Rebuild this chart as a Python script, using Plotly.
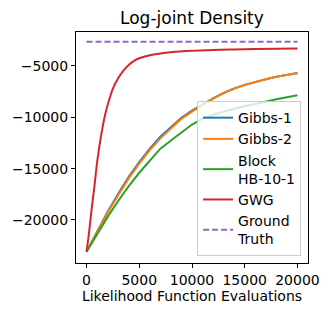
import plotly.graph_objects as go

x_gibbs = [0, 1000, 2000, 3000, 4000, 5000, 6000, 7000, 8000, 9000, 10000,
           11000, 12000, 13000, 14000, 15000, 16000, 17000, 18000, 19000, 20000]
gibbs1 = [-23100, -21150, -19200, -17450, -15800, -14350, -13050, -11900, -10950, -10050, -9350,
          -8720, -8150, -7630, -7190, -6840, -6540, -6290, -6040, -5840, -5690]
gibbs2 = [-23100, -21200, -19300, -17600, -15950, -14500, -13200, -12050, -11050, -10150, -9450,
          -8800, -8200, -7650, -7200, -6850, -6550, -6300, -6050, -5850, -5700]
block_hb = [-23100, -21350, -19700, -18150, -16700, -15400, -14200, -13050, -12250, -11500, -10700,
            -10150, -9750, -9450, -9150, -8900, -8700, -8450, -8250, -8050, -7850]

x_gwg = [0, 250, 500, 750, 1000, 1250, 1500, 1750, 2000, 2500, 3000, 3500, 4000, 4500,
         5000, 6000, 7000, 8000, 10000, 12000, 14000, 16000, 18000, 20000]
gwg = [-23100, -21100, -18800, -16700, -14400, -12600, -11100, -9800, -8800, -7200, -6200,
       -5450, -4900, -4500, -4250, -3950, -3780, -3660, -3520, -3440, -3390, -3350, -3320, -3300]

x_truth = [0, 20000]
truth = [-2650, -2650]

x_ticks = [0, 5000, 10000, 15000, 20000]
y_ticks = [-20000, -15000, -10000, -5000]

font = "DejaVu Sans"
fig = go.Figure()
fig.add_trace(go.Scatter(x=x_gibbs, y=gibbs1, mode="lines", name="Gibbs-1",
                         line=dict(color="#1f77b4", width=2)))
fig.add_trace(go.Scatter(x=x_gibbs, y=gibbs2, mode="lines", name="Gibbs-2",
                         line=dict(color="#ff7f0e", width=2)))
fig.add_trace(go.Scatter(x=x_gibbs, y=block_hb, mode="lines", name="Block<br>HB-10-1",
                         line=dict(color="#2ca02c", width=2)))
fig.add_trace(go.Scatter(x=x_gwg, y=gwg, mode="lines", name="GWG", line_shape="spline",
                         line=dict(color="#d62728", width=2)))
fig.add_trace(go.Scatter(x=x_truth, y=truth, mode="lines", name="Ground<br>Truth",
                         line=dict(color="#9467bd", width=2, dash="6px,3px")))

axis_common = dict(showgrid=False, zeroline=False, showline=True, linecolor="black",
                   linewidth=1, mirror=True, ticks="outside", ticklen=4, tickcolor="black",
                   tickformat="d", automargin=False,
                   tickfont=dict(family=font, size=14, color="black"))
fig.update_xaxes(range=[-1000, 21000], tickvals=x_ticks,
                 title=dict(text="Likelihood Function Evaluations",
                            font=dict(family=font, size=14, color="black"), standoff=4),
                 **axis_common)
fig.update_yaxes(range=[-24190, -1690], tickvals=y_ticks, **axis_common)

# page body has an 8px margin, so the figure is 8px smaller and shifted
fig.update_layout(
    width=321, height=308,
    margin=dict(l=68, r=21, t=24, b=53),
    paper_bgcolor="white", plot_bgcolor="white",
    title=dict(text="Log-joint Density", x=0.573, xanchor="center", y=0.967, yanchor="middle",
               font=dict(family=font, size=17, color="black")),
    legend=dict(x=0.97, y=0.03, xanchor="right", yanchor="bottom",
                bgcolor="rgba(255,255,255,0.8)", bordercolor="#cccccc", borderwidth=1,
                font=dict(family=font, size=14, color="black"), itemwidth=30,
                tracegroupgap=0),
    showlegend=True,
)
fig.write_html("out.html")
